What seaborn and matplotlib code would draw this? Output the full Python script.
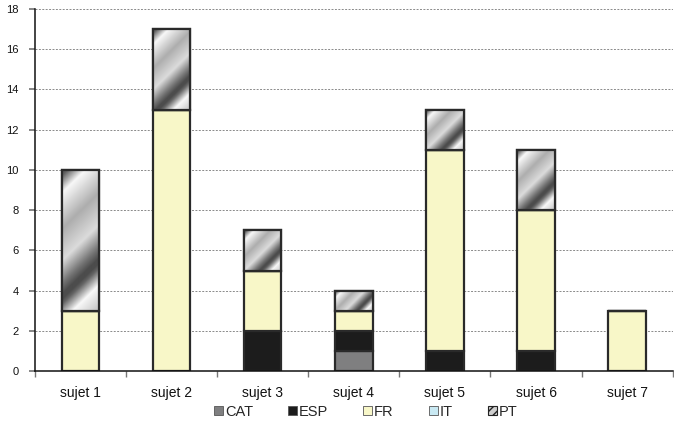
import numpy as np
import pandas as pd
import matplotlib
matplotlib.use("Agg")
import matplotlib.pyplot as plt
import seaborn as sns
from matplotlib.patches import Patch

categories = ["sujet 1", "sujet 2", "sujet 3", "sujet 4", "sujet 5", "sujet 6", "sujet 7"]
series = ["CAT", "ESP", "FR", "IT", "PT"]
cat_vals = [0, 0, 0, 1, 0, 0, 0]
esp_vals = [0, 0, 2, 1, 1, 1, 0]
fr_vals = [3, 13, 3, 1, 10, 7, 3]
it_vals = [0, 0, 0, 0, 0, 0, 0]
pt_vals = [7, 4, 2, 1, 2, 3, 0]
y_ticks = [0, 2, 4, 6, 8, 10, 12, 14, 16, 18]

colors = {"CAT": "#7f7f80", "ESP": "#1c1c1c", "FR": "#f8f7c8", "IT": "#c9e9f3", "PT": "#a8a8a8"}
edge = "#2a2a2a"

sns.set_theme(style="white")
plt.rcParams["font.family"] = ["Liberation Sans", "DejaVu Sans"]

df = pd.DataFrame({"cat": categories, "CAT": cat_vals, "ESP": esp_vals,
                   "FR": fr_vals, "IT": it_vals, "PT": pt_vals})

fig = plt.figure(figsize=(6.74, 4.30), dpi=100)
ax = fig.add_axes([0.052, 0.137, 0.946, 0.842])

bottom = np.zeros(len(categories))
pt_bars = []
for s in series:
    vals = np.array(df[s], dtype=float)
    n_before = len(ax.patches)
    sns.barplot(data=df, x="cat", y=s, ax=ax, bottom=bottom, color=colors[s],
                width=0.41, edgecolor=edge, linewidth=1.6, saturation=1, errorbar=None)
    if s == "PT":
        pt_bars = ax.patches[n_before:]
    bottom = bottom + vals

ax.set_xlim(-0.5, 6.5)
ax.set_ylim(0, 18)

# metallic diagonal gradient for PT bars
fig.canvas.draw()
prof_t = [0.0, 0.04, 0.17, 0.45, 0.70, 0.88, 0.96, 1.0]
prof_v = [0.30, 0.40, 0.97, 0.68, 0.86, 0.45, 0.30, 0.30]
for p in pt_bars:
    h = p.get_height()
    if h <= 0:
        continue
    x0, y0, w = p.get_x(), p.get_y(), p.get_width()
    (px0, py0) = ax.transData.transform((x0, y0))
    (px1, py1) = ax.transData.transform((x0 + w, y0 + h))
    nx = int(round(px1 - px0))
    ny = int(round(py1 - py0))
    xx, yy = np.meshgrid(np.arange(nx), np.arange(ny))  # yy: rows from top
    period = 0.72 * (nx + ny)
    t = ((xx + yy) % period) / period
    val = np.interp(t, prof_t, prof_v)
    im = ax.imshow(val, cmap="gray", vmin=0, vmax=1, extent=(x0, x0 + w, y0, y0 + h),
                   origin="upper", aspect="auto", interpolation="bilinear",
                   zorder=p.get_zorder() + 0.1)
    im.set_clip_path(p)
    outline = plt.Rectangle((x0, y0), w, h, fill=False, edgecolor=edge, linewidth=1.6,
                            zorder=p.get_zorder() + 0.2)
    ax.add_patch(outline)

ax.set_xlim(-0.5, 6.5)
ax.set_ylim(0, 18)
ax.set_yticks(y_ticks)
ax.set_xlabel("")
ax.set_ylabel("")
ax.set_xticks(range(len(categories)))
ax.set_xticklabels(categories, fontsize=10, color="#111111")
ax.tick_params(axis="x", length=0, pad=11)
ax.set_xticks(np.arange(-0.5, 7.0, 1.0), minor=True)
ax.tick_params(axis="x", which="minor", length=4, color="#777777", direction="out", bottom=True)
ax.tick_params(axis="y", labelsize=8, length=4, color="#777777", left=True, pad=8, labelcolor="#111111")

ax.grid(axis="y", linestyle=(0, (2, 1.5)), color="#8a8a8a", linewidth=0.7)
ax.set_axisbelow(True)
for sp in ["top", "right"]:
    ax.spines[sp].set_visible(False)
ax.spines["left"].set_color("#111111")
ax.spines["bottom"].set_color("#111111")
ax.spines["left"].set_linewidth(1.1)
ax.spines["bottom"].set_linewidth(1.1)

handles = [Patch(facecolor=colors[s], edgecolor="#555555", linewidth=0.6) for s in series]
handles[-1] = Patch(facecolor="#cfcfcf", edgecolor="#222222", hatch="////", linewidth=0.8)
fig.legend(handles, series, loc="center left", bbox_to_anchor=(214 / 674, (430 - 412) / 430), ncol=5,
           frameon=False, fontsize=10.5, handlelength=0.6, handleheight=0.6,
           handletextpad=0.15, columnspacing=2.4, borderpad=0, borderaxespad=0)

fig.savefig("out.png", dpi=100)
